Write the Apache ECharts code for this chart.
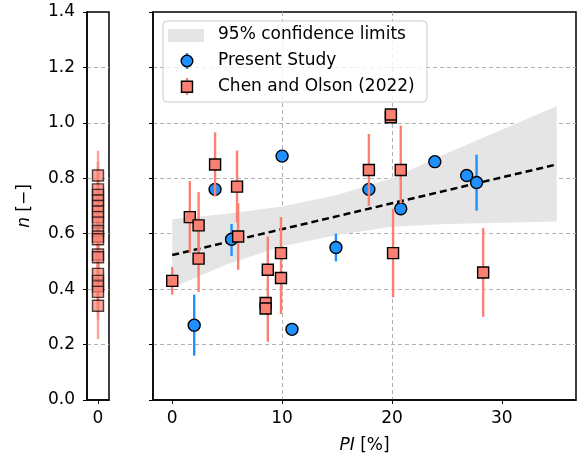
<!DOCTYPE html>
<html>
<head>
	<meta charset="utf-8"/>
	<title>n vs PI</title>
	<style type="text/css">
		html,body{ margin:0; padding:0; background:#fff; }
		#chart{ width:581px; height:465px; }
	</style>
</head>
<body>
	<div id="chart"></div>
	<script src="https://cdn.jsdelivr.net/npm/echarts@6/dist/echarts.min.js"></script>
	<script type="text/javascript">

		// Present Study
		var presentPI = [2.0, 3.9, 5.4, 10.0, 10.9, 14.9, 17.9, 20.8, 23.9, 26.8, 27.7];
		var presentN  = [0.27, 0.76, 0.58, 0.88, 0.255, 0.55, 0.76, 0.69, 0.86, 0.81, 0.785];
		var presentLo = [0.16, null, 0.52, null, null, 0.50, null, null, null, null, 0.683];
		var presentHi = [0.38, null, 0.635, null, null, 0.60, null, null, null, null, 0.885];

		// Chen and Olson (2022), plastic soils
		var chenPI = [0.0, 1.6, 2.4, 2.4, 3.9, 5.9, 6.0, 8.7, 8.5, 8.5, 9.9, 9.9, 17.9, 19.9, 19.9, 20.1, 20.8, 28.3];
		var chenN  = [0.43, 0.66, 0.63, 0.51, 0.85, 0.77, 0.59, 0.47, 0.35, 0.33, 0.53, 0.44, 0.83, 1.02, 1.03, 0.53, 0.83, 0.46];
		var chenLo = [0.38, 0.53, 0.50, 0.39, 0.734, 0.64, 0.47, 0.21, null, null, 0.31, null, 0.70, null, null, 0.37, 0.71, 0.30];
		var chenHi = [0.48, 0.79, 0.75, 0.63, 0.966, 0.90, 0.71, 0.59, null, null, 0.66, null, 0.96, null, null, 0.69, 0.99, 0.62];

		// Chen and Olson (2022), non-plastic (left strip)
		var stripN  = [0.81, 0.76, 0.74, 0.72, 0.70, 0.68, 0.66, 0.64, 0.61, 0.59, 0.58, 0.525, 0.515, 0.455, 0.43, 0.41, 0.39, 0.34];
		var stripLo = [0.72, 0.66, 0.64, 0.62, 0.60, 0.58, 0.56, 0.54, 0.51, 0.49, 0.48, 0.43, 0.42, 0.35, 0.33, 0.31, 0.29, 0.22];
		var stripHi = [0.90, 0.86, 0.84, 0.82, 0.80, 0.78, 0.76, 0.74, 0.71, 0.69, 0.68, 0.62, 0.61, 0.56, 0.53, 0.51, 0.49, 0.46];

		// fit and 95% confidence band
		var fitPI = [0, 35];
		var fitN  = [0.523, 0.85];
		var bandPI = [0, 5, 10, 15, 20, 25, 30, 35];
		var bandLo = [0.405, 0.49, 0.555, 0.595, 0.625, 0.635, 0.640, 0.644];
		var bandHi = [0.652, 0.672, 0.698, 0.74, 0.80, 0.89, 0.975, 1.061];

		var xTicks = [0, 10, 20, 30];

		var FONT = 'DejaVu Sans';
		var FS = 17;
		var BLUE = '#1E90FF';
		var SALMON = '#FA8072';
		var GRIDLINE = {show:true, showMinLine:false, showMaxLine:false, lineStyle:{color:'#b0b0b0', type:[4,3], width:1}};
		var AXLINE = {show:true, onZero:false, lineStyle:{color:'#000', width:1.5}};
		var TICK = {show:true, length:4, lineStyle:{color:'#000', width:1}};

		function pts(xs, ys){
			return xs.map(function(x,i){ return [x, ys[i]]; });
		}
		function bars(xs, lo, hi){
			var out = [];
			for(var i=0;i<xs.length;i++){
				if(lo[i] != null) out.push([xs[i], lo[i], hi[i]]);
			}
			return out;
		}
		function errSeries(data, color, xi, z, opacity){
			return {
				type:'custom', xAxisIndex:xi, yAxisIndex:xi, z:z, silent:true,
				encode:{x:0, y:[1,2]},
				data:data,
				renderItem:function(params, api){
					var a = api.coord([api.value(0), api.value(1)]);
					var b = api.coord([api.value(0), api.value(2)]);
					return {type:'line', shape:{x1:a[0], y1:a[1], x2:b[0], y2:b[1]},
						style:{stroke:color, lineWidth:2.4, opacity:opacity}};
				}
			};
		}

		var chart = echarts.init(document.getElementById('chart'));

		var nameStyle = {color:'#000', fontSize:FS, fontFamily:FONT,
			rich:{it:{fontStyle:'italic', fontSize:FS, fontFamily:FONT, color:'#000'}}};

		var option = {
			animation:false,
			textStyle:{fontFamily:FONT},
			grid:[
				{left:87, right:472, top:12, bottom:65, show:true, borderColor:'#000', borderWidth:1.5, backgroundColor:'transparent'},
				{left:153, right:5, top:12, bottom:65, show:true, borderColor:'#000', borderWidth:1.5, backgroundColor:'transparent'}
			],
			xAxis:[
				{
					type:'value', gridIndex:0, min:-1, max:1, interval:1,
					axisLine:AXLINE, axisTick:{show:true, length:4, lineStyle:{color:'#000'}, customValues:[0]},
					axisLabel:{color:'#000', fontSize:FS, fontFamily:FONT, margin:10, customValues:[0]},
					splitLine:GRIDLINE
				},
				{
					type:'value', gridIndex:1, min:-1.75, max:36.75, splitNumber:4,
					name:'{it|PI} [%]', nameLocation:'middle', nameGap:37, nameTextStyle:nameStyle,
					axisLine:AXLINE, axisTick:{show:true, length:4, lineStyle:{color:'#000'}, customValues:xTicks},
					axisLabel:{color:'#000', fontSize:FS, fontFamily:FONT, margin:10, customValues:xTicks},
					splitLine:GRIDLINE
				}
			],
			yAxis:[
				{
					type:'value', gridIndex:0, min:0, max:1.4, interval:0.2,
					name:'{it|n} [−]', nameLocation:'middle', nameGap:54, nameTextStyle:nameStyle,
					axisLine:AXLINE, axisTick:TICK,
					axisLabel:{color:'#000', fontSize:FS, fontFamily:FONT, margin:12,
						formatter:function(v){ return v.toFixed(1); }},
					splitLine:GRIDLINE
				},
				{
					type:'value', gridIndex:1, min:0, max:1.4, interval:0.2,
					axisLine:AXLINE, axisTick:TICK,
					axisLabel:{show:false},
					splitLine:GRIDLINE
				}
			],
			series:[
				{
					// confidence band
					type:'custom', xAxisIndex:1, yAxisIndex:1, z:1, silent:true,
					data:[[0, 0]],
					renderItem:function(params, api){
						var poly = [];
						for(var i=0;i<bandPI.length;i++) poly.push(api.coord([bandPI[i], bandHi[i]]));
						for(var j=bandPI.length-1;j>=0;j--) poly.push(api.coord([bandPI[j], bandLo[j]]));
						return {type:'polygon', shape:{points:poly}, style:{fill:'#e5e5e5'}};
					}
				},
				{
					type:'line', xAxisIndex:1, yAxisIndex:1, z:2, silent:true,
					data:pts(fitPI, fitN), symbol:'none',
					lineStyle:{color:'#000', width:2.5, type:[7,4]}
				},
				errSeries(bars(presentPI, presentLo, presentHi), BLUE, 1, 3, 1),
				{
					type:'scatter', xAxisIndex:1, yAxisIndex:1, z:4, silent:true,
					data:pts(presentPI, presentN), symbol:'circle', symbolSize:12,
					itemStyle:{color:BLUE, borderColor:'#000', borderWidth:1.4, opacity:1}
				},
				errSeries(bars(chenPI, chenLo, chenHi), SALMON, 1, 5, 1),
				{
					type:'scatter', xAxisIndex:1, yAxisIndex:1, z:6, silent:true,
					data:pts(chenPI, chenN), symbol:'rect', symbolSize:11,
					itemStyle:{color:SALMON, borderColor:'#000', borderWidth:1.4, opacity:1}
				},
				errSeries(bars(stripN.map(function(){return 0;}), stripLo, stripHi), SALMON, 0, 3, 0.7),
				{
					type:'scatter', xAxisIndex:0, yAxisIndex:0, z:4, silent:true,
					data:stripN.map(function(v){ return [0, v]; }), symbol:'rect', symbolSize:11,
					itemStyle:{color:SALMON, borderColor:'#000', borderWidth:1.4, opacity:0.7}
				}
			],
			graphic:[
				{type:'rect', z:100, shape:{x:163, y:21, width:264, height:81, r:4},
					style:{fill:'rgba(255,255,255,0.8)', stroke:'#cccccc', lineWidth:1}},
				{type:'rect', z:101, shape:{x:168, y:29, width:36, height:13}, style:{fill:'#e5e5e5'}},
				{type:'text', z:101, x:218, y:35, style:{text:'95% confidence limits', font:FS + 'px "DejaVu Sans"', fill:'#000', verticalAlign:'middle'}},
				{type:'line', z:101, shape:{x1:187, y1:53, x2:187, y2:69}, style:{stroke:BLUE, lineWidth:2.4}},
				{type:'circle', z:102, shape:{cx:187, cy:61, r:5.8}, style:{fill:BLUE, stroke:'#000', lineWidth:1.4}},
				{type:'text', z:101, x:218, y:61, style:{text:'Present Study', font:FS + 'px "DejaVu Sans"', fill:'#000', verticalAlign:'middle'}},
				{type:'line', z:101, shape:{x1:187, y1:78, x2:187, y2:95}, style:{stroke:SALMON, lineWidth:2.4}},
				{type:'rect', z:102, shape:{x:181.5, y:81.2, width:11, height:11}, style:{fill:SALMON, stroke:'#000', lineWidth:1.4}},
				{type:'text', z:101, x:218, y:86.7, style:{text:'Chen and Olson (2022)', font:FS + 'px "DejaVu Sans"', fill:'#000', verticalAlign:'middle'}}
			]
		};

		chart.setOption(option);

	</script>
</body>
</html>
